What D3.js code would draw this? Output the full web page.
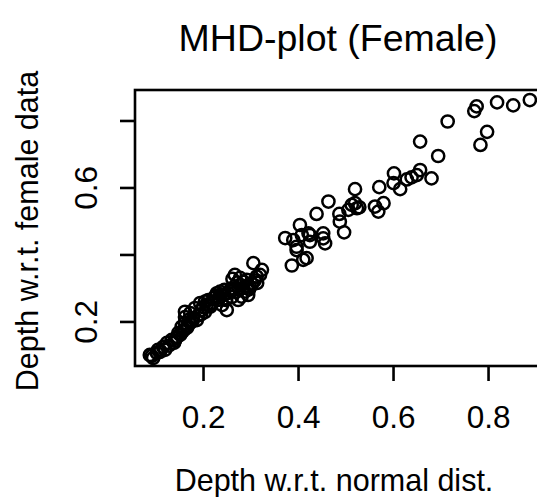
<!DOCTYPE html>
<html>
<head>
<meta charset="utf-8">
<script src="https://cdn.jsdelivr.net/npm/d3@7"></script>
<style>
  html, body { margin: 0; padding: 0; background: #fff; }
  svg { display: block; font-family: "Liberation Sans", Arial, Helvetica, sans-serif; }
</style>
</head>
<body>
<svg id="chart" width="537" height="497"></svg>
<script>
// ---- data ----
const depthNormal = [
  0.088,0.095,0.103,0.105,0.116,0.124,0.134,0.139,0.145,0.148,0.155,0.152,0.162,0.162,0.160,
  0.173,0.173,0.162,0.183,0.187,0.194,0.197,0.204,0.215,0.222,0.229,0.243,0.236,0.250,0.260,
  0.267,0.278,0.288,0.295,0.292,0.281,0.306,0.324,0.313,0.320,0.278,0.211,0.219,0.232,0.253,
  0.261,0.269,0.284,0.299,0.303,0.274,0.248,0.204,0.179,0.168,0.143,0.120,0.109,0.240,0.293,
  0.314,0.092,0.110,0.128,0.141,0.157,0.166,0.178,0.190,0.200,0.208,0.226,0.234,0.245,0.256,
  0.265,0.272,0.286,0.297,0.309,0.170,0.196,0.213,0.238,0.262,
  0.404,0.373,0.390,0.408,0.425,0.422,0.453,0.453,0.425,0.397,0.397,0.418,0.411,0.387,0.457,
  0.497,0.488,0.487,0.439,0.464,0.513,0.524,0.506,0.520,0.520,0.529,0.562,0.569,0.580,0.571,
  0.601,0.602,0.615,0.629,0.639,0.650,0.657,0.681,0.695,0.657,0.715,0.784,0.798,0.771,0.776,
  0.819,0.853,0.888
];
const depthFemale = [
  0.100,0.091,0.106,0.115,0.124,0.136,0.145,0.136,0.154,0.166,0.184,0.160,0.213,0.196,0.175,
  0.225,0.196,0.229,0.240,0.204,0.255,0.234,0.259,0.244,0.269,0.284,0.279,0.289,0.234,0.299,
  0.339,0.309,0.289,0.279,0.324,0.274,0.374,0.354,0.334,0.339,0.330,0.264,0.255,0.264,0.285,
  0.273,0.288,0.300,0.303,0.312,0.264,0.264,0.228,0.210,0.187,0.150,0.115,0.109,0.249,0.306,
  0.315,0.097,0.112,0.128,0.143,0.170,0.181,0.201,0.218,0.243,0.250,0.276,0.271,0.294,0.292,
  0.296,0.316,0.318,0.296,0.322,0.205,0.221,0.248,0.281,0.327,
  0.488,0.449,0.443,0.458,0.458,0.463,0.448,0.463,0.438,0.423,0.413,0.389,0.384,0.367,0.433,
  0.466,0.498,0.521,0.521,0.558,0.548,0.538,0.533,0.553,0.595,0.541,0.543,0.528,0.553,0.601,
  0.613,0.642,0.595,0.624,0.630,0.637,0.652,0.627,0.694,0.737,0.797,0.727,0.766,0.828,0.842,
  0.854,0.845,0.861
];
const xTicks = [0.2, 0.4, 0.6, 0.8];
const xTickLabels = ["0.2", "0.4", "0.6", "0.8"];
const yTicks = [0.2, 0.4, 0.6, 0.8];
const yTickLabels = ["0.2", "", "0.6", ""];
const titleText = "MHD-plot (Female)";
const xLabel = "Depth w.r.t. normal dist.";
const yLabel = "Depth w.r.t. female data";

// ---- layout ----
const svg = d3.select("#chart");
const plot = { left: 135, right: 546, top: 90, bottom: 366 };

const x = d3.scaleLinear().domain([0.0568, 0.922]).range([plot.left, plot.right]);
const y = d3.scaleLinear().domain([0.067, 0.891]).range([plot.bottom, plot.top]);

// points
svg.append("g")
  .selectAll("circle")
  .data(depthNormal.map((d, i) => [d, depthFemale[i]]))
  .join("circle")
  .attr("cx", d => x(d[0]))
  .attr("cy", d => y(d[1]))
  .attr("r", 6.1)
  .attr("fill", "none")
  .attr("stroke", "#000")
  .attr("stroke-width", 2.5);

// box
svg.append("rect")
  .attr("x", plot.left).attr("y", plot.top)
  .attr("width", plot.right - plot.left).attr("height", plot.bottom - plot.top)
  .attr("fill", "none").attr("stroke", "#000").attr("stroke-width", 2.6);

// x axis
const xAxis = d3.axisBottom(x)
  .tickValues(xTicks)
  .tickFormat((d, i) => xTickLabels[i])
  .tickSize(15).tickSizeOuter(0).tickPadding(0);
const gx = svg.append("g").attr("transform", `translate(0,${plot.bottom})`).call(xAxis);
gx.select(".domain").remove();
gx.selectAll(".tick line").attr("stroke", "#000").attr("stroke-width", 2.6);
gx.selectAll(".tick text")
  .attr("y", 62).attr("dy", null)
  .attr("font-size", 31.5).attr("fill", "#000")
  .attr("font-family", "Liberation Sans, Arial, sans-serif");

// y axis
const yAxis = d3.axisLeft(y)
  .tickValues(yTicks)
  .tickFormat((d, i) => yTickLabels[i])
  .tickSize(15).tickSizeOuter(0).tickPadding(0);
const gy = svg.append("g").attr("transform", `translate(${plot.left},0)`).call(yAxis);
gy.select(".domain").remove();
gy.selectAll(".tick line").attr("stroke", "#000").attr("stroke-width", 2.6);
gy.selectAll(".tick text")
  .attr("x", null).attr("dy", null)
  .attr("text-anchor", "middle")
  .attr("transform", "translate(-38,0) rotate(-90)")
  .attr("font-size", 31.5).attr("fill", "#000")
  .attr("font-family", "Liberation Sans, Arial, sans-serif");

// title
svg.append("text")
  .attr("x", 338).attr("y", 51)
  .attr("text-anchor", "middle")
  .attr("font-size", 37.5)
  .text(titleText);

// x label
svg.append("text")
  .attr("x", 334).attr("y", 491)
  .attr("text-anchor", "middle")
  .attr("font-size", 30.5)
  .text(xLabel);

// y label
svg.append("text")
  .attr("transform", "translate(38,231) rotate(-90)")
  .attr("text-anchor", "middle")
  .attr("font-size", 30.5)
  .text(yLabel);
</script>
</body>
</html>
